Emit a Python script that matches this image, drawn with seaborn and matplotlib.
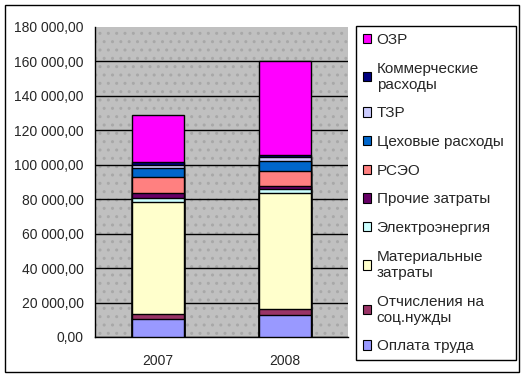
import numpy as np
import pandas as pd
import seaborn as sns
import matplotlib.pyplot as plt
from matplotlib.patches import Patch, Rectangle
from matplotlib.ticker import FuncFormatter, FixedLocator

# data
years = ['2007', '2008']
categories = ['Оплата труда', 'Отчисления на\nсоц.нужды', 'Материальные\nзатраты',
              'Электроэнергия', 'Прочие затраты', 'РСЭО', 'Цеховые расходы',
              'ТЗР', 'Коммерческие\nрасходы', 'ОЗР']
oplata = [10350, 12900]
otchisl = [2900, 3300]
material = [64900, 67300]
electro = [2700, 2300]
prochie = [2900, 2100]
rseo = [9000, 8400]
cehovye = [5300, 5900]
tzr = [2100, 2100]
kommerch = [1400, 1400]
ozr = [27500, 54300]
colors = ['#9999FF', '#993366', '#FFFFCC', '#CCFFFF', '#660066',
          '#FF8080', '#0066CC', '#CCCCFF', '#000080', '#FF00FF']

series = [oplata, otchisl, material, electro, prochie, rseo, cehovye, tzr, kommerch, ozr]
df = pd.DataFrame({'year': np.repeat(years, len(categories)),
                   'cat': categories * len(years),
                   'value': np.array(series).T.ravel()})
df['cum'] = df.groupby('year')['value'].cumsum()

sns.set_style('white')
plt.rcParams['font.family'] = ['Liberation Sans', 'DejaVu Sans']

fig = plt.figure(figsize=(5.26, 3.78), dpi=100)
ax = fig.add_axes([95 / 526, 1 - 337 / 378, 253 / 526, 310 / 378])
ax.set_facecolor('#c0c0c0')
ax.patch.set_hatch('..')
ax.patch.set_edgecolor('#a8a8a8')
ax.patch.set_linewidth(0)

# stack by drawing cumulative totals from the top segment down
for cat, col in reversed(list(zip(categories, colors))):
    sub = df[df['cat'] == cat]
    sns.barplot(data=sub, x='year', y='cum', order=years, color=col,
                saturation=1, width=0.41, edgecolor='black', linewidth=1,
                ax=ax, zorder=3)

ax.set_ylim(0, 180000)
ax.set_xlim(-0.5, 1.5)
ax.set_yticks(np.arange(0, 180001, 20000))
ax.yaxis.set_major_formatter(FuncFormatter(
    lambda v, p: f'{v:,.2f}'.replace(',', ' ').replace('.', ',')))
ax.yaxis.grid(True, color='black', linewidth=1, zorder=1)
ax.set_axisbelow(True)
ax.get_ygridlines()[-1].set_visible(False)
ax.xaxis.set_minor_locator(FixedLocator([-0.5, 0.5, 1.5]))
ax.tick_params(axis='x', which='major', length=0, pad=12, labelsize=10)
ax.tick_params(axis='x', which='minor', length=5, width=1, color='black', direction='out')
ax.tick_params(axis='y', length=5, width=1, color='black', direction='out', pad=3, labelsize=10)
ax.set_xlabel('')
ax.set_ylabel('')
for s in ['top', 'right']:
    ax.spines[s].set_visible(False)
for s in ['left', 'bottom']:
    ax.spines[s].set_color('black')
    ax.spines[s].set_linewidth(1)

handles = [Patch(facecolor=c, edgecolor='black', linewidth=0.8, label=l)
           for l, c in zip(categories, colors)][::-1]
leg = fig.legend(handles=handles, loc='upper left',
                 bbox_to_anchor=(356 / 526, 1 - 359 / 378, 160 / 526, 333 / 378),
                 mode='expand', fontsize=11, frameon=True, fancybox=False,
                 edgecolor='black', framealpha=1, handlelength=0.55,
                 handleheight=0.55, handletextpad=0.35, labelspacing=0.96,
                 borderpad=0.45, borderaxespad=0)
leg.get_frame().set_linewidth(1)

fig.patches.append(Rectangle((5 / 526, 1 - 372 / 378), 514 / 526, 367 / 378,
                             transform=fig.transFigure, fill=False,
                             edgecolor='black', linewidth=1))

fig.savefig('out.png', dpi=100)
